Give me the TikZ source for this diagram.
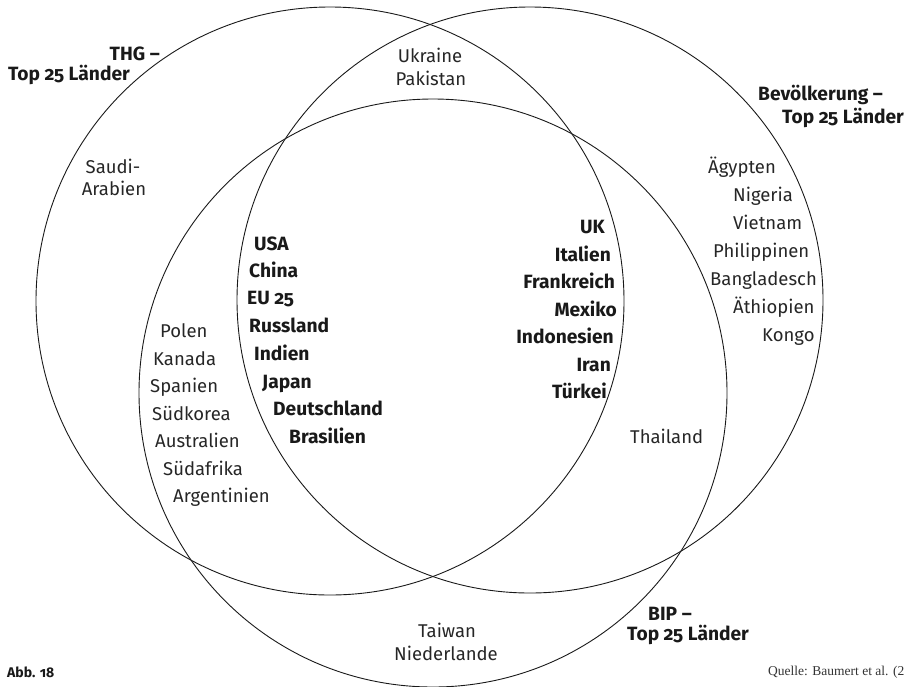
\documentclass[tikz,border=0pt]{standalone}
\usepackage{fontspec}
\setmainfont{Fira Sans}[Numbers=OldStyle]
\newfontfamily\quellefont{Liberation Serif}
\begin{document}
\begin{tikzpicture}[x=1pt,y=-1pt,
  ring/.style={draw=black!90, line width=0.9pt, circle, inner sep=0pt, minimum size=#1},
  lbl/.style={inner sep=0pt, text=black!85, font=\fontsize{18.5}{22}\selectfont},
  blbl/.style={inner sep=0pt, text=black!90, font=\fontsize{19.2}{22}\selectfont\bfseries},
  small/.style={inner sep=0pt, text=black!90, font=\fontsize{14}{16}\selectfont\bfseries},
  src/.style={inner sep=0pt, text=black!80, font=\fontsize{13.5}{16}\selectfont\quellefont}]
\useasboundingbox (0,0) rectangle (909,686);
% circles
\node[ring=588pt] (thg) at (330,301) {};
\node[ring=586pt] (bev) at (530,300) {};
\node[ring=588pt] (bip) at (433,393) {};
% circle titles
\node[blbl, anchor=base east] (thg1) at (160,60) {THG –};
\node[blbl, anchor=base east] (thg2) at (130,80) {Top 25 Länder};
\node[blbl, anchor=base west] (bev1) at (758,100) {Bevölkerung –};
\node[blbl, anchor=base west] (bev2) at (782,123) {Top 25 Länder};
\node[blbl, anchor=base west] (bip1) at (648,620) {BIP –};
\node[blbl, anchor=base west] (bip2) at (627,640) {Top 25 Länder};
% THG only
\node[lbl, anchor=base] (sa1) at (113,173) {Saudi-};
\node[lbl, anchor=base] (sa2) at (114,195) {Arabien};
% THG & Bev
\node[lbl, anchor=base] (ukr) at (430,62) {Ukraine};
\node[lbl, anchor=base] (pak) at (431,85) {Pakistan};
% all three, left part
\node[blbl, anchor=base west] (usa) at (254,250) {USA};
\node[blbl, anchor=base west] (chn) at (249,277) {China};
\node[blbl, anchor=base west] (eu) at (247,304) {EU 25};
\node[blbl, anchor=base west] (rus) at (249,332) {Russland};
\node[blbl, anchor=base west] (ind) at (254,360) {Indien};
\node[blbl, anchor=base west] (jap) at (262,388) {Japan};
\node[blbl, anchor=base west] (deu) at (273,415) {Deutschland};
\node[blbl, anchor=base west] (bra) at (289,443) {Brasilien};
% THG & BIP
\node[lbl, anchor=base west] (pol) at (160,337) {Polen};
\node[lbl, anchor=base west] (kan) at (153,365) {Kanada};
\node[lbl, anchor=base west] (spa) at (150,392) {Spanien};
\node[lbl, anchor=base west] (sko) at (152,420) {Südkorea};
\node[lbl, anchor=base west] (aus) at (155,447) {Australien};
\node[lbl, anchor=base west] (saf) at (163,475) {Südafrika};
\node[lbl, anchor=base west] (arg) at (173,502) {Argentinien};
% all three, right part
\node[blbl, anchor=base east] (uk) at (605,233) {UK};
\node[blbl, anchor=base east] (ita) at (611,261) {Italien};
\node[blbl, anchor=base east] (fra) at (615,288) {Frankreich};
\node[blbl, anchor=base east] (mex) at (617,316) {Mexiko};
\node[blbl, anchor=base east] (idn) at (614,343) {Indonesien};
\node[blbl, anchor=base east] (irn) at (611,371) {Iran};
\node[blbl, anchor=base east] (tur) at (607,398) {Türkei};
% Bev only
\node[lbl, anchor=base west] (egy) at (708,173) {Ägypten};
\node[lbl, anchor=base west] (nga) at (733,201) {Nigeria};
\node[lbl, anchor=base west] (vnm) at (733,229) {Vietnam};
\node[lbl, anchor=base west] (phl) at (713,257) {Philippinen};
\node[lbl, anchor=base west] (bgd) at (710,285) {Bangladesch};
\node[lbl, anchor=base west] (eth) at (733,313) {Äthiopien};
\node[lbl, anchor=base west] (cod) at (762,341) {Kongo};
% Bev & BIP
\node[lbl, anchor=base west] (tha) at (630,443) {Thailand};
% BIP only
\node[lbl, anchor=base] (twn) at (447,637) {Taiwan};
\node[lbl, anchor=base] (nld) at (446,660) {Niederlande};
% footer
\node[small, anchor=base west] (abb) at (7,677) {Abb. 18};
\node[src, anchor=base west] (quelle) at (768,675) {Quelle: Baumert et al. (2};
\end{tikzpicture}
\end{document}
